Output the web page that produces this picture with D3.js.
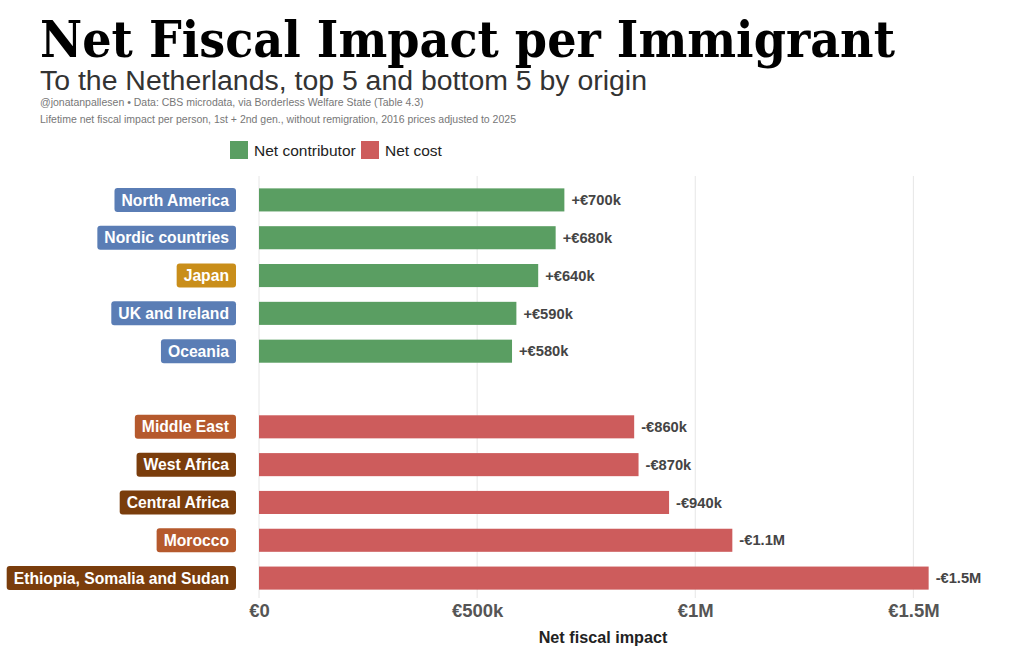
<!DOCTYPE html>
<html>
<head>
<meta charset="utf-8">
<script src="https://cdn.jsdelivr.net/npm/d3@7"></script>
<style>
  body { margin: 0; background: #fff; }
  svg { display: block; }
</style>
</head>
<body>
<svg id="chart" width="1024" height="658"></svg>
<script>
// data (thousands of euro, absolute value)
var regions = ["North America", "Nordic countries", "Japan", "UK and Ireland", "Oceania",
               "Middle East", "West Africa", "Central Africa", "Morocco", "Ethiopia, Somalia and Sudan"];
var impact = [700, 680, 640, 590, 580, 860, 870, 940, 1085, 1535];
var kind = ["contributor", "contributor", "contributor", "contributor", "contributor",
            "cost", "cost", "cost", "cost", "cost"];
var group = ["west", "west", "asia", "west", "west", "mena", "africa", "africa", "mena", "africa"];
var xTicks = [0, 500, 1000, 1500];
var xTickLabels = ["€0", "€500k", "€1M", "€1.5M"];
var legendKeys = ["contributor", "cost"];
var legendLabels = ["Net contributor", "Net cost"];

var barColor = { contributor: "#5a9e62", cost: "#cd5c5c" };
var tagColor = { west: "#5a7db5", asia: "#c98e1a", mena: "#b5592d", africa: "#7a3d0c" };

var sans = "'Liberation Sans', Arial, sans-serif";
var svg = d3.select("#chart");

// header
svg.append("text")
    .attr("x", 40).attr("y", 57)
    .attr("font-family", "'DejaVu Serif', 'Liberation Serif', serif")
    .attr("font-weight", "bold").attr("font-size", 50)
    .attr("textLength", 855).attr("lengthAdjust", "spacingAndGlyphs")
    .attr("fill", "#000")
    .text("Net Fiscal Impact per Immigrant");

svg.append("text")
    .attr("x", 40).attr("y", 90)
    .attr("font-family", sans)
    .attr("font-size", 27)
    .attr("textLength", 607).attr("lengthAdjust", "spacingAndGlyphs")
    .attr("fill", "#333")
    .text("To the Netherlands, top 5 and bottom 5 by origin");

svg.append("text")
    .attr("x", 40).attr("y", 106)
    .attr("font-family", sans)
    .attr("font-size", 10.5).attr("fill", "#777")
    .text("@jonatanpallesen • Data: CBS microdata, via Borderless Welfare State (Table 4.3)");

svg.append("text")
    .attr("x", 40).attr("y", 123)
    .attr("font-family", sans)
    .attr("font-size", 10.5).attr("fill", "#777")
    .text("Lifetime net fiscal impact per person, 1st + 2nd gen., without remigration, 2016 prices adjusted to 2025");

// legend
var legendX = [230, 361];
legendKeys.forEach(function (k, i) {
    svg.append("rect")
        .attr("x", legendX[i]).attr("y", 141)
        .attr("width", 18).attr("height", 18)
        .attr("fill", barColor[k]);
    svg.append("text")
        .attr("x", legendX[i] + 24).attr("y", 156)
        .attr("font-family", sans)
        .attr("font-size", 15.5).attr("fill", "#222")
        .text(legendLabels[i]);
});

// scales
var slots = regions.slice(0, 5).concat(["_gap"]).concat(regions.slice(5));

var x = d3.scaleLinear()
    .domain([0, 1600])
    .range([259, 957]);

var y = d3.scaleBand()
    .domain(slots)
    .range([181, 597])
    .paddingInner(0.39)
    .paddingOuter(0.195);

// grid
svg.append("g").selectAll("line")
    .data(xTicks)
    .enter().append("line")
    .attr("x1", function (d) { return x(d); })
    .attr("x2", function (d) { return x(d); })
    .attr("y1", 176).attr("y2", 598)
    .attr("stroke", "#e6e6e6").attr("stroke-width", 1);

// x axis
var axis = d3.axisBottom(x)
    .tickValues(xTicks)
    .tickFormat(function (d, i) { return xTickLabels[i]; })
    .tickSize(0)
    .tickPadding(0);

var ax = svg.append("g")
    .attr("transform", "translate(0,600)")
    .call(axis);
ax.select(".domain").remove();
ax.selectAll("text")
    .attr("dy", "17px")
    .attr("font-family", sans)
    .attr("font-weight", "bold").attr("font-size", 18.5)
    .attr("fill", "#555");

svg.append("text")
    .attr("x", 603).attr("y", 643)
    .attr("text-anchor", "middle")
    .attr("font-family", sans)
    .attr("font-weight", "bold").attr("font-size", 16.2)
    .attr("fill", "#222")
    .text("Net fiscal impact");

// bars
var rows = regions.map(function (r, i) {
    return { region: r, value: impact[i], kind: kind[i], group: group[i] };
});

function fmt(d) {
    var sign = d.kind === "contributor" ? "+" : "-";
    if (d.value >= 1000) return sign + "€" + (d.value / 1000).toFixed(1) + "M";
    return sign + "€" + d.value + "k";
}

svg.append("g").selectAll("rect")
    .data(rows)
    .enter().append("rect")
    .attr("x", x(0))
    .attr("y", function (d) { return y(d.region); })
    .attr("width", function (d) { return x(d.value) - x(0); })
    .attr("height", y.bandwidth())
    .attr("fill", function (d) { return barColor[d.kind]; });

svg.append("g").selectAll("text")
    .data(rows)
    .enter().append("text")
    .attr("x", function (d) { return x(d.value) + 7; })
    .attr("y", function (d) { return y(d.region) + y.bandwidth() / 2; })
    .attr("dy", "0.35em")
    .attr("font-family", sans)
    .attr("font-weight", "bold").attr("font-size", 14.7)
    .attr("fill", "#444")
    .text(fmt);

// region tags
var tags = svg.append("g").selectAll("g")
    .data(rows)
    .enter().append("g");

tags.append("text")
    .attr("x", 229)
    .attr("y", function (d) { return y(d.region) + y.bandwidth() / 2; })
    .attr("dy", "0.36em")
    .attr("text-anchor", "end")
    .attr("font-family", sans)
    .attr("font-weight", "bold").attr("font-size", 15.7)
    .attr("fill", "#fff")
    .text(function (d) { return d.region; });

tags.each(function (d) {
    var g = d3.select(this);
    var w = g.select("text").node().getComputedTextLength();
    var cy = y(d.region) + y.bandwidth() / 2;
    g.insert("rect", "text")
        .attr("x", 229 - w - 7)
        .attr("y", cy - 12)
        .attr("width", w + 14)
        .attr("height", 24)
        .attr("rx", 3)
        .attr("fill", tagColor[d.group]);
});
</script>
</body>
</html>
